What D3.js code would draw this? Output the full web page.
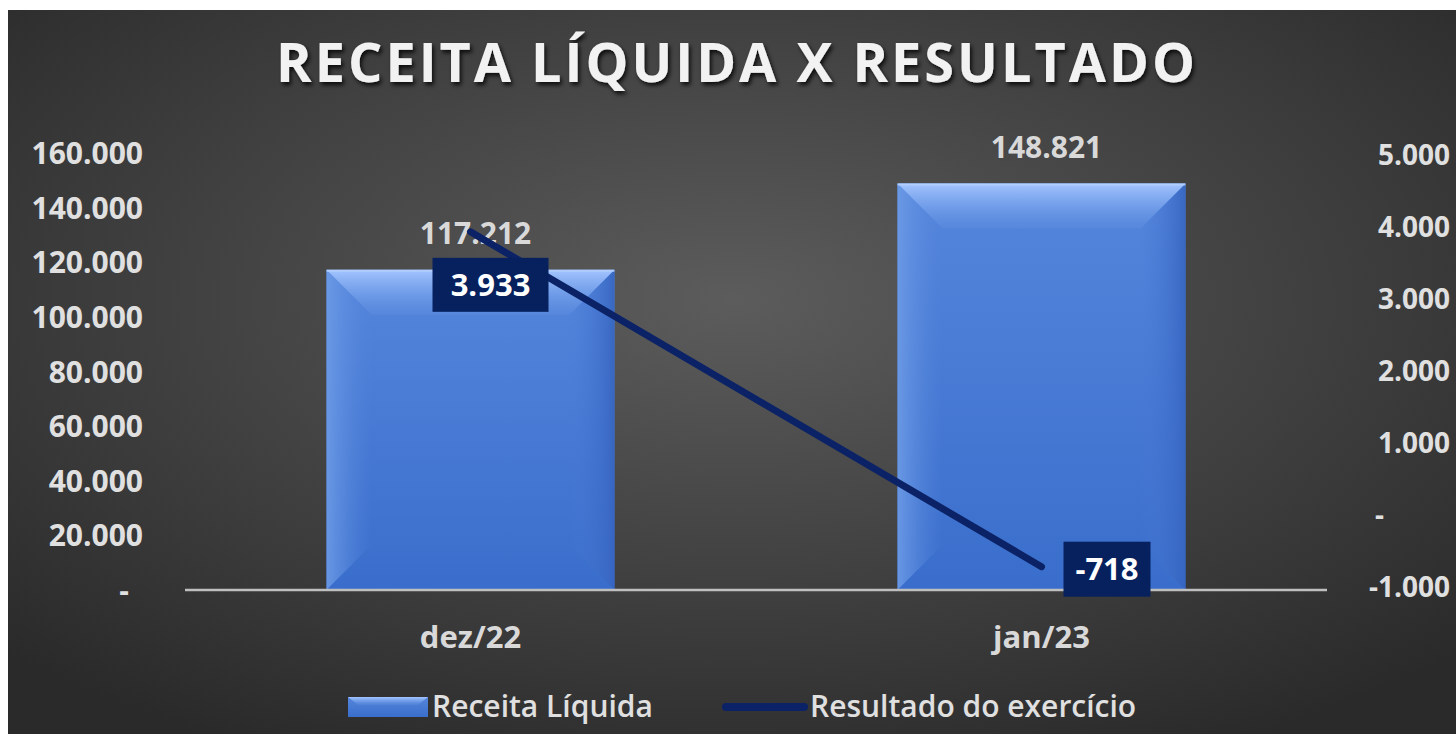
<!DOCTYPE html>
<html><head><meta charset="utf-8">
<script src="https://cdn.jsdelivr.net/npm/d3@7"></script>
<style>
html,body{margin:0;padding:0;background:#fff;}
svg{display:block;}
</style></head>
<body>
<svg id="c" width="1456" height="734"></svg>
<script>
const categories = ["dez/22", "jan/23"];
const receita = [117212, 148821];
const resultado = [3933, -718];
const leftTicks = [0, 20000, 40000, 60000, 80000, 100000, 120000, 140000, 160000];
const rightTicks = [-1000, 0, 1000, 2000, 3000, 4000, 5000];
const seriesNames = ["Receita Líquida", "Resultado do exercício"];
const titleText = "RECEITA LÍQUIDA X RESULTADO";

const svg = d3.select("#c");
const W = 1456, H = 734;
const font = "'Open Sans', 'Noto Sans', sans-serif";
const fmt = v => v === 0 ? "-" : d3.format(",")(v).replace(/,/g, ".").replace(/\u2212/g, "-");

const defs = svg.append("defs");
const bg = defs.append("radialGradient").attr("id","bg").attr("cx","50%").attr("cy","40%").attr("r","70%");
bg.append("stop").attr("offset","0%").attr("stop-color","#5c5c5c");
bg.append("stop").attr("offset","100%").attr("stop-color","#2a2a2a");
function lin(id, x1, y1, x2, y2, stops) {
  const g = defs.append("linearGradient").attr("id", id).attr("x1",x1).attr("y1",y1).attr("x2",x2).attr("y2",y2);
  stops.forEach(s => g.append("stop").attr("offset", s[0]).attr("stop-color", s[1]).attr("stop-opacity", s[2] == null ? 1 : s[2]));
}
lin("barg", 0, 0, 0, 1, [["0%","#5586dc"],["100%","#3a6ecc"]]);
lin("bevT", 0, 0, 0, 1, [["0%","#a4c5ff",1],["100%","#6a98e6",0.2]]);
lin("bevL", 0, 0, 1, 0, [["0%","#6d9be6",0.9],["100%","#5586dc",0]]);
lin("bevR", 1, 0, 0, 0, [["0%","#3564bf",0.9],["100%","#4a7bd6",0]]);
lin("bevB", 0, 1, 0, 0, [["0%","#3a6dcb",0.6],["100%","#3d70ce",0]]);
const sh = defs.append("filter").attr("id","sh").attr("x","-10%").attr("y","-30%").attr("width","120%").attr("height","160%");
sh.append("feDropShadow").attr("dx",2).attr("dy",3).attr("stdDeviation",2).attr("flood-color","#000").attr("flood-opacity",0.8);

svg.append("rect").attr("x",8).attr("y",10).attr("width",W-8).attr("height",H-10).attr("fill","url(#bg)");

// title
svg.append("text").attr("x",737).attr("y",82).attr("text-anchor","middle")
  .attr("font-family",font).attr("font-weight",700).attr("font-size",54)
  .attr("letter-spacing",3).attr("fill","#f2f2f2").attr("filter","url(#sh)").text(titleText);

const x = d3.scaleBand().domain(categories).range([185, 1327]).paddingInner(0).paddingOuter(0);
const yL = d3.scaleLinear().domain([0, 160000]).range([590, 153]);
const yR = d3.scaleLinear().domain([-1000, 5000]).range([587, 155]);
const bw = 288;

// left axis
const axL = svg.append("g").attr("transform","translate(143,0)")
  .call(d3.axisLeft(yL).tickValues(leftTicks).tickFormat(fmt).tickSize(0).tickPadding(0));
axL.select(".domain").remove();
axL.selectAll("text").attr("font-family",font).attr("font-weight",700).attr("font-size",30).attr("fill","#e0e0e0").attr("dy","0.35em")
  .attr("transform", d => d === 0 ? "translate(-14,0)" : null);

// right axis
const axR = svg.append("g").attr("transform","translate(1450,0)")
  .call(d3.axisLeft(yR).tickValues(rightTicks).tickFormat(fmt).tickSize(0).tickPadding(0));
axR.select(".domain").remove();
axR.selectAll("text").attr("font-family",font).attr("font-weight",700).attr("font-size",28).attr("fill","#e0e0e0").attr("dy","0.35em")
  .attr("transform", d => d === 0 ? "translate(-66,0)" : null);

// bars
const bev = 45;
const bars = svg.append("g");
categories.forEach((c, i) => {
  const cx = x(c) + x.bandwidth()/2;
  const x0 = cx - bw/2, x1 = cx + bw/2, y0 = yL(receita[i]), y1 = yL(0);
  const g = bars.append("g");
  g.append("rect").attr("x",x0).attr("y",y0).attr("width",bw).attr("height",y1-y0).attr("fill","url(#barg)");
  g.append("polygon").attr("points",[[x0,y0],[x0+bev,y0+bev],[x0+bev,y1-bev],[x0,y1]].join(" ")).attr("fill","url(#bevL)");
  g.append("polygon").attr("points",[[x1,y0],[x1-bev,y0+bev],[x1-bev,y1-bev],[x1,y1]].join(" ")).attr("fill","url(#bevR)");
  g.append("polygon").attr("points",[[x0,y1],[x1,y1],[x1-bev,y1-bev],[x0+bev,y1-bev]].join(" ")).attr("fill","url(#bevB)");
  g.append("polygon").attr("points",[[x0,y0],[x1,y0],[x1-bev,y0+bev],[x0+bev,y0+bev]].join(" ")).attr("fill","url(#bevT)");
  g.append("line").attr("x1",x0).attr("x2",x1).attr("y1",y0+1).attr("y2",y0+1).attr("stroke","#b4d0ff").attr("stroke-width",2).attr("opacity",0.8);
  svg.append("text").attr("x",cx+5).attr("y",y0-26).attr("text-anchor","middle")
    .attr("font-family",font).attr("font-weight",700).attr("font-size",30).attr("fill","#d9d9d9").text(fmt(receita[i]));
});

// axis line
svg.append("line").attr("x1",185).attr("x2",1327).attr("y1",yL(0)).attr("y2",yL(0)).attr("stroke","#bfbfbf").attr("stroke-width",2.5);

// category labels
svg.append("g").selectAll("text").data(categories).join("text")
  .attr("x", d => x(d)+x.bandwidth()/2).attr("y",648).attr("text-anchor","middle")
  .attr("font-family",font).attr("font-weight",700).attr("font-size",31).attr("fill","#d9d9d9").text(d => d);

// line
const pts = categories.map((c,i) => [x(c)+x.bandwidth()/2, yR(resultado[i])]);
svg.append("path").attr("d", d3.line()(pts)).attr("fill","none").attr("stroke","#0b2366").attr("stroke-width",7).attr("stroke-linecap","round");

// line labels
const boxes = [{dx:-38, dy:26, w:116, h:54}, {dx:22, dy:-25, w:87, h:55}];
categories.forEach((c,i) => {
  const [px, py] = pts[i];
  const b = boxes[i];
  svg.append("rect").attr("x",px+b.dx).attr("y",py+b.dy).attr("width",b.w).attr("height",b.h).attr("fill","#06215e");
  svg.append("text").attr("x",px+b.dx+b.w/2).attr("y",py+b.dy+b.h/2).attr("dy","0.35em").attr("text-anchor","middle")
    .attr("font-family",font).attr("font-weight",700).attr("font-size",31).attr("fill","#ffffff").text(fmt(resultado[i]));
});

// legend
const lg = svg.append("g");
const sx = 348, sy = 697;
lg.append("rect").attr("x",sx).attr("y",sy).attr("width",80).attr("height",20).attr("fill","url(#barg)");
lg.append("polygon").attr("points",[[sx,sy],[sx+80,sy],[sx+70,sy+8],[sx+10,sy+8]].join(" ")).attr("fill","url(#bevT)");
lg.append("text").attr("x",432).attr("y",706).attr("dy","0.35em").attr("font-family",font).attr("font-weight",600).attr("font-size",30).attr("fill","#e0e0e0").text(seriesNames[0]);
lg.append("line").attr("x1",726).attr("x2",804).attr("y1",707).attr("y2",707).attr("stroke","#0b2366").attr("stroke-width",8).attr("stroke-linecap","round");
lg.append("text").attr("x",810).attr("y",706).attr("dy","0.35em").attr("font-family",font).attr("font-weight",600).attr("font-size",30).attr("fill","#e0e0e0").text(seriesNames[1]);
</script>
</body></html>
